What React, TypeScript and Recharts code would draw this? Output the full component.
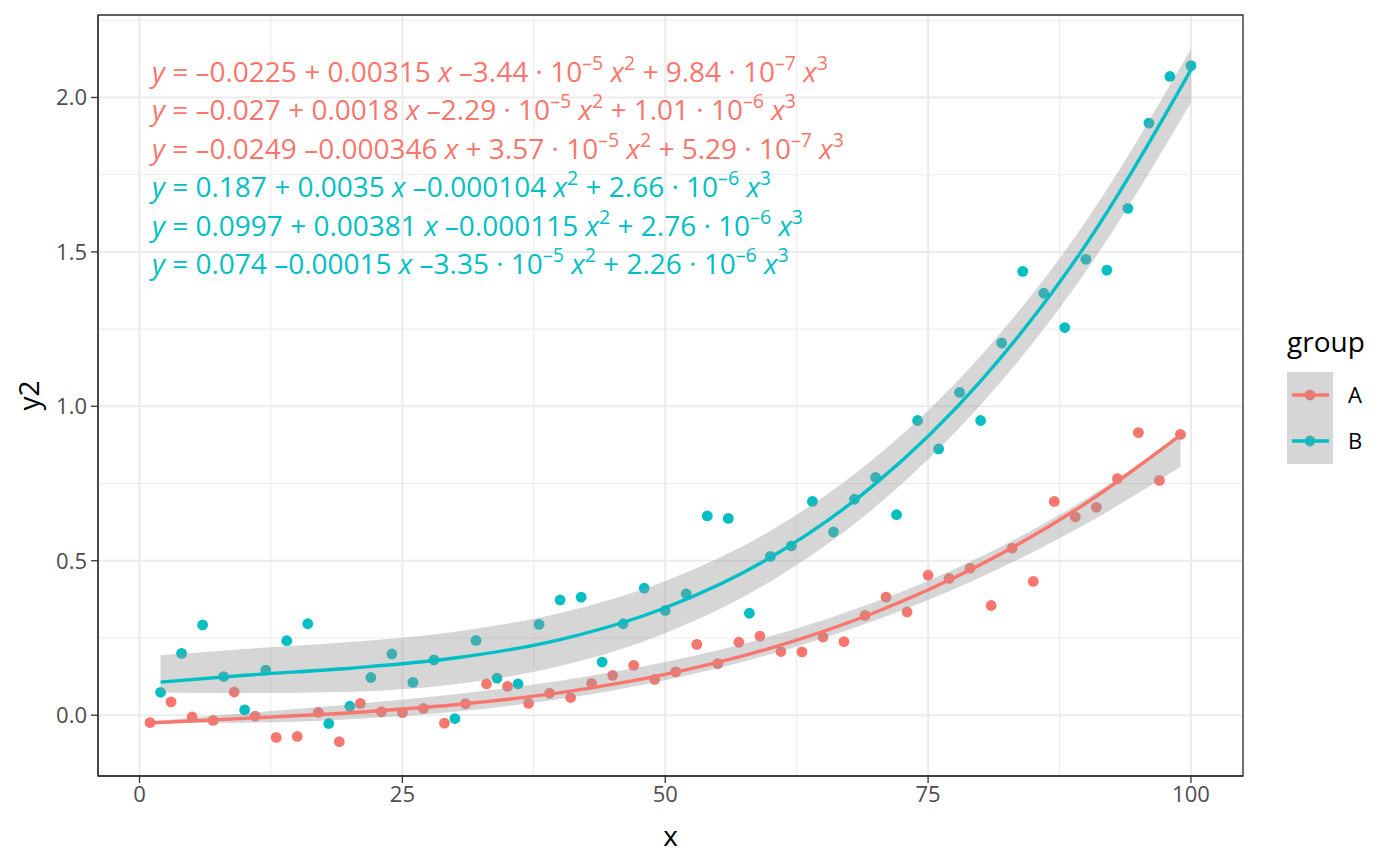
import React from 'react';
import { ComposedChart, XAxis, YAxis, CartesianGrid, Scatter, Area, Line, ReferenceArea } from 'recharts';

const FONT = '"Open Sans", "Noto Sans", sans-serif';
const RED = '#F8766D';
const TEAL = '#00BFC4';

// observed points, group A (odd x) and group B (even x)
const xA = [1, 3, 5, 7, 9, 11, 13, 15, 17, 19, 21, 23, 25, 27, 29, 31, 33, 35, 37, 39, 41, 43, 45, 47, 49,
  51, 53, 55, 57, 59, 61, 63, 65, 67, 69, 71, 73, 75, 77, 79, 81, 83, 85, 87, 89, 91, 93, 95, 97, 99];
const yA = [-0.024, 0.043, -0.006, -0.017, 0.075, -0.003, -0.072, -0.069, 0.009, -0.086,
  0.038, 0.011, 0.008, 0.022, -0.026, 0.037, 0.101, 0.093, 0.038, 0.071,
  0.057, 0.103, 0.129, 0.161, 0.116, 0.14, 0.229, 0.167, 0.236, 0.256,
  0.206, 0.205, 0.253, 0.238, 0.323, 0.382, 0.334, 0.453, 0.443, 0.476,
  0.355, 0.541, 0.433, 0.692, 0.642, 0.673, 0.766, 0.915, 0.76, 0.909];
const xB = [2, 4, 6, 8, 10, 12, 14, 16, 18, 20, 22, 24, 26, 28, 30, 32, 34, 36, 38, 40, 42, 44, 46, 48, 50,
  52, 54, 56, 58, 60, 62, 64, 66, 68, 70, 72, 74, 76, 78, 80, 82, 84, 86, 88, 90, 92, 94, 96, 98, 100];
const yB = [0.074, 0.2, 0.292, 0.125, 0.017, 0.146, 0.241, 0.296, -0.027, 0.029,
  0.122, 0.198, 0.106, 0.179, -0.011, 0.242, 0.12, 0.101, 0.294, 0.373,
  0.382, 0.172, 0.296, 0.411, 0.339, 0.393, 0.645, 0.637, 0.33, 0.514,
  0.548, 0.692, 0.593, 0.699, 0.77, 0.649, 0.954, 0.862, 1.045, 0.954,
  1.205, 1.437, 1.366, 1.255, 1.476, 1.441, 1.641, 1.917, 2.068, 2.103];

// fitted median curve and quartile band, read along x
const fitXA = [1, 10, 20, 30, 40, 50, 60, 70, 80, 90, 99];
const midA = [-0.0252, -0.0103, 0.0079, 0.0337, 0.073, 0.132, 0.2167, 0.3332, 0.4876, 0.6858, 0.9068];
const lowA = [-0.0252, -0.0243, -0.0133, 0.0111, 0.0522, 0.1132, 0.1971, 0.3073, 0.4467, 0.6188, 0.804];
const highA = [-0.0194, 0.0065, 0.0346, 0.0676, 0.1114, 0.172, 0.2552, 0.367, 0.5131, 0.6997, 0.9069];
const fitXB = [2, 10, 20, 30, 40, 50, 60, 70, 80, 90, 100];
const midB = [0.1069, 0.1291, 0.152, 0.185, 0.2447, 0.3477, 0.5105, 0.7496, 1.0816, 1.5231, 2.0897];
const lowB = [0.0736, 0.0714, 0.0757, 0.1004, 0.159, 0.2653, 0.4326, 0.6745, 1.0047, 1.4367, 1.984];
const highB = [0.1936, 0.2143, 0.2367, 0.2702, 0.3308, 0.4345, 0.5972, 0.8348, 1.1633, 1.5987, 2.157];

const xTicks = [0, 25, 50, 75, 100];
const yTicks = [0, 0.5, 1, 1.5, 2];
const xMinor = [12.5, 37.5, 62.5, 87.5];
const yMinor = [0.25, 0.75, 1.25, 1.75, 2.25];
const xDomain = [-3.95, 104.95];
const yDomain = [-0.197, 2.267];

const equations = [
  { color: RED, text: 'y = –0.0225 + 0.00315 x –3.44 · 10^–5 x^2 + 9.84 · 10^–7 x^3' },
  { color: RED, text: 'y = –0.027 + 0.0018 x –2.29 · 10^–5 x^2 + 1.01 · 10^–6 x^3' },
  { color: RED, text: 'y = –0.0249 –0.000346 x + 3.57 · 10^–5 x^2 + 5.29 · 10^–7 x^3' },
  { color: TEAL, text: 'y = 0.187 + 0.0035 x –0.000104 x^2 + 2.66 · 10^–6 x^3' },
  { color: TEAL, text: 'y = 0.0997 + 0.00381 x –0.000115 x^2 + 2.76 · 10^–6 x^3' },
  { color: TEAL, text: 'y = 0.074 –0.00015 x –3.35 · 10^–5 x^2 + 2.26 · 10^–6 x^3' },
];

const groups = [
  { name: 'A', color: RED },
  { name: 'B', color: TEAL },
];

const pointsA = xA.map((x, i) => ({ x, y: yA[i] }));
const pointsB = xB.map((x, i) => ({ x, y: yB[i] }));
const lineA = fitXA.map((x, i) => ({ x, y: midA[i] }));
const lineB = fitXB.map((x, i) => ({ x, y: midB[i] }));
const bandA = fitXA.map((x, i) => ({ x, range: [lowA[i], highA[i]] }));
const bandB = fitXB.map((x, i) => ({ x, range: [lowB[i], highB[i]] }));

const dot = (color: string) => (p: any) => <circle cx={p.cx} cy={p.cy} r={5.4} fill={color} />;

// split "10^–5 x^2" style text into normal / italic / superscript pieces
function parseEq(s: string) {
  const parts: { t: string; k: string }[] = [];
  let buf = '';
  const flush = () => { if (buf) parts.push({ t: buf, k: 'n' }); buf = ''; };
  for (let i = 0; i < s.length; i++) {
    const c = s[i];
    if (c === 'x' || c === 'y') { flush(); parts.push({ t: c, k: 'i' }); }
    else if (c === '^') {
      flush();
      let sup = '';
      i++;
      while (i < s.length && s[i] !== ' ') { sup += s[i]; i++; }
      i--;
      parts.push({ t: sup, k: 's' });
    } else buf += c;
  }
  flush();
  return parts;
}

const EQ_SIZE = 28;

function Overlay() {
  return (
    <svg width={1400} height={866} style={{ position: 'absolute', left: 0, top: 0, pointerEvents: 'none' }}>
      {equations.map((eq, row) => {
        const parts = parseEq(eq.text);
        let raised = false;
        return (
          <text key={row} x={152} y={82 + row * 38.4} fill={eq.color} fontSize={EQ_SIZE} fontFamily={FONT}
            style={{ whiteSpace: 'pre' }}>
            {parts.map((p, j) => {
              let dy = 0;
              if (p.k === 's' && !raised) { dy = -12; raised = true; }
              else if (p.k !== 's' && raised) { dy = 12; raised = false; }
              return (
                <tspan key={j} dy={dy || undefined} fontStyle={p.k === 'i' ? 'italic' : undefined}
                  fontSize={p.k === 's' ? EQ_SIZE * 0.7 : undefined}>{p.t}</tspan>
              );
            })}
          </text>
        );
      })}
      <g>
        <text x={1287} y={352} fontSize={28} fontFamily={FONT} fill="#000">group</text>
        {groups.map((g, i) => {
          const cy = 395 + i * 46;
          return (
            <g key={g.name}>
              <rect x={1287} y={cy - 23} width={46} height={46} fill="#fff" />
              <circle cx={1310} cy={cy} r={5.4} fill={g.color} />
              <rect x={1287} y={cy - 23} width={46} height={46} fill="#999999" fillOpacity={0.4} />
              <line x1={1292} x2={1329} y1={cy} y2={cy} stroke={g.color} strokeWidth={3.4} />
              <text x={1348} y={cy + 8} fontSize={22} fontFamily={FONT} fill="#000">{g.name}</text>
            </g>
          );
        })}
      </g>
    </svg>
  );
}

export default function App() {
  const tickStyle = { fill: '#4D4D4D', fontSize: 22, fontFamily: FONT };
  const axisStroke = { stroke: '#333333', strokeWidth: 1.3 };
  return (
    <div style={{ position: 'relative', width: 1400, height: 866, background: '#fff' }}>
      <style>{'body{margin:0}'}</style>
      <ComposedChart width={1400} height={866} margin={{ top: 15, right: 157, bottom: 0, left: 0 }}>
        <CartesianGrid stroke="#EBEBEB" strokeWidth={1} verticalValues={xMinor} horizontalValues={yMinor} />
        <CartesianGrid stroke="#EBEBEB" strokeWidth={2} />
        <XAxis dataKey="x" type="number" domain={xDomain} allowDataOverflow ticks={xTicks} height={90}
          tick={tickStyle} tickLine={axisStroke} axisLine={axisStroke} tickSize={7} tickMargin={3}
          label={{ value: 'x', position: 'insideBottom', offset: 20, fill: '#000', fontSize: 28, fontFamily: FONT }} />
        <YAxis type="number" domain={yDomain} allowDataOverflow ticks={yTicks} width={98}
          tickFormatter={(v: number) => v.toFixed(1)}
          tick={tickStyle} tickLine={axisStroke} axisLine={axisStroke} tickSize={7} tickMargin={4}
          label={{ value: 'y2', angle: -90, position: 'insideLeft', offset: 29, fill: '#000', fontSize: 28,
            fontFamily: FONT, style: { textAnchor: 'middle' } }} />
        <ReferenceArea x1={xDomain[0]} x2={xDomain[1]} y1={yDomain[0]} y2={yDomain[1]} fill="none"
          stroke="#333333" strokeWidth={1.3} ifOverflow="visible" />
        <Scatter data={pointsA} dataKey="y" shape={dot(RED)} zIndex={50} isAnimationActive={false} />
        <Scatter data={pointsB} dataKey="y" shape={dot(TEAL)} zIndex={50} isAnimationActive={false} />
        <Area data={bandA} dataKey="range" type="monotone" fill="#999999" fillOpacity={0.4} stroke="none"
          zIndex={100} isAnimationActive={false} />
        <Area data={bandB} dataKey="range" type="monotone" fill="#999999" fillOpacity={0.4} stroke="none"
          zIndex={100} isAnimationActive={false} />
        <Line data={lineA} dataKey="y" type="monotone" stroke={RED} strokeWidth={3.4} dot={false}
          zIndex={400} isAnimationActive={false} />
        <Line data={lineB} dataKey="y" type="monotone" stroke={TEAL} strokeWidth={3.4} dot={false}
          zIndex={400} isAnimationActive={false} />
      </ComposedChart>
      <Overlay />
    </div>
  );
}
